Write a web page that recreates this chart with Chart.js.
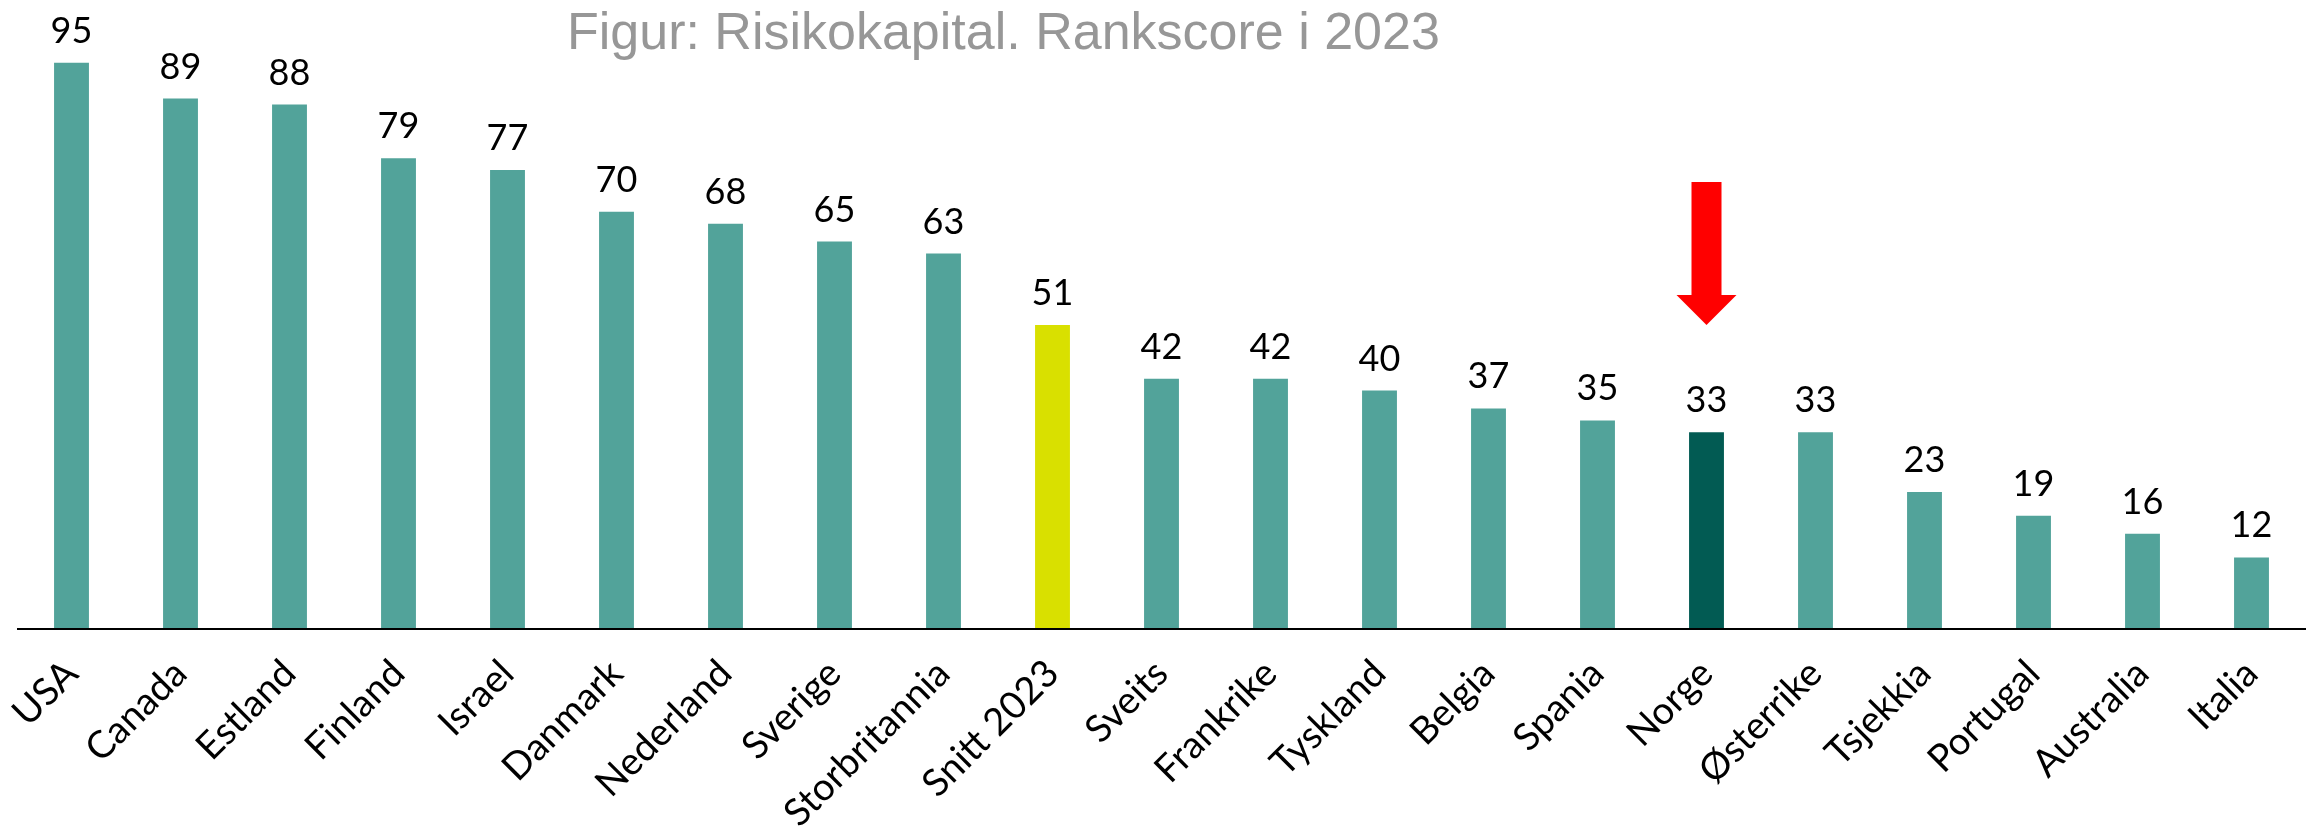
<!DOCTYPE html>
<html>
<head>
<meta charset="utf-8">
<script src="https://cdn.jsdelivr.net/npm/chart.js@4/dist/chart.umd.min.js"></script>
<style>
  html, body { margin: 0; padding: 0; background: #fff; }
  #wrap { width: 2321px; height: 833px; }
</style>
</head>
<body>
<div id="wrap"><canvas id="chart" width="2321" height="833"></canvas></div>
<script>
// Data
const countries = ['USA', 'Canada', 'Estland', 'Finland', 'Israel', 'Danmark', 'Nederland', 'Sverige',
  'Storbritannia', 'Snitt 2023', 'Sveits', 'Frankrike', 'Tyskland', 'Belgia', 'Spania', 'Norge',
  'Østerrike', 'Tsjekkia', 'Portugal', 'Australia', 'Italia'];
const scores = [95, 89, 88, 79, 77, 70, 68, 65, 63, 51, 42, 42, 40, 37, 35, 33, 33, 23, 19, 16, 12];
const averageLabel = 'Snitt 2023';
const highlightLabel = 'Norge';
const arrowFrom = 75;   // arrow tail (score units)
const arrowTo = 51;     // arrow tip (score units)
const titleText = 'Figur: Risikokapital. Rankscore i 2023';

// Colours
const teal = '#52a39a';
const yellow = '#d9e000';
const darkGreen = '#025b53';

const barColor = ctx => {
  const lbl = countries[ctx.dataIndex];
  if (lbl === averageLabel) return yellow;
  if (lbl === highlightLabel) return darkGreen;
  return teal;
};

// value labels above each bar
const valueLabels = {
  id: 'valueLabels',
  afterDatasetsDraw(chart) {
    const { ctx } = chart;
    const meta = chart.getDatasetMeta(0);
    ctx.save();
    ctx.font = '36px Lato';
    ctx.fillStyle = '#000';
    ctx.textAlign = 'center';
    ctx.textBaseline = 'alphabetic';
    meta.data.forEach((bar, i) => {
      ctx.fillText(String(scores[i]), bar.x, bar.y - 20);
    });
    ctx.restore();
  }
};

// red arrow pointing at Norge + title
const extras = {
  id: 'extras',
  afterDraw(chart) {
    const { ctx, scales } = chart;
    const x = scales.x.getPixelForValue(countries.indexOf(highlightLabel));
    const yTop = scales.y.getPixelForValue(arrowFrom);
    const yTip = scales.y.getPixelForValue(arrowTo);
    const headH = 30;
    ctx.save();
    ctx.fillStyle = '#ff0000';
    ctx.beginPath();
    ctx.moveTo(x - 15, yTop);
    ctx.lineTo(x + 15, yTop);
    ctx.lineTo(x + 15, yTip - headH);
    ctx.lineTo(x + 30, yTip - headH);
    ctx.lineTo(x, yTip);
    ctx.lineTo(x - 30, yTip - headH);
    ctx.lineTo(x - 15, yTip - headH);
    ctx.closePath();
    ctx.fill();

    // title
    ctx.font = '52px "Liberation Sans"';
    ctx.fillStyle = '#979797';
    ctx.textAlign = 'left';
    ctx.textBaseline = 'alphabetic';
    ctx.fillText(titleText, 567, 49);

    // base line
    ctx.strokeStyle = '#000';
    ctx.lineWidth = 2;
    ctx.beginPath();
    ctx.moveTo(chart.chartArea.left, chart.chartArea.bottom);
    ctx.lineTo(chart.chartArea.right, chart.chartArea.bottom);
    ctx.stroke();
    ctx.restore();
  }
};

new Chart(document.getElementById('chart'), {
  type: 'bar',
  data: {
    labels: countries,
    datasets: [{
      data: scores,
      backgroundColor: barColor,
      barPercentage: 0.32,
      categoryPercentage: 1
    }]
  },
  options: {
    responsive: false,
    animation: false,
    layout: { padding: { top: 33, left: 17, right: 15, bottom: 0 } },
    plugins: { legend: { display: false }, tooltip: { enabled: false }, title: { display: false } },
    scales: {
      x: {
        grid: { display: false, drawTicks: false },
        border: { display: false },
        ticks: {
          color: '#000',
          font: { family: 'Lato', size: 38 },
          minRotation: 45,
          maxRotation: 45,
          padding: 22,
          autoSkip: false
        },
        afterFit(scale) {
          scale.height = 204;
          scale.paddingLeft = 0;
          scale.paddingRight = 0;
        }
      },
      y: {
        display: false,
        min: 0,
        max: 100
      }
    }
  },
  plugins: [valueLabels, extras]
});
</script>
</body>
</html>
